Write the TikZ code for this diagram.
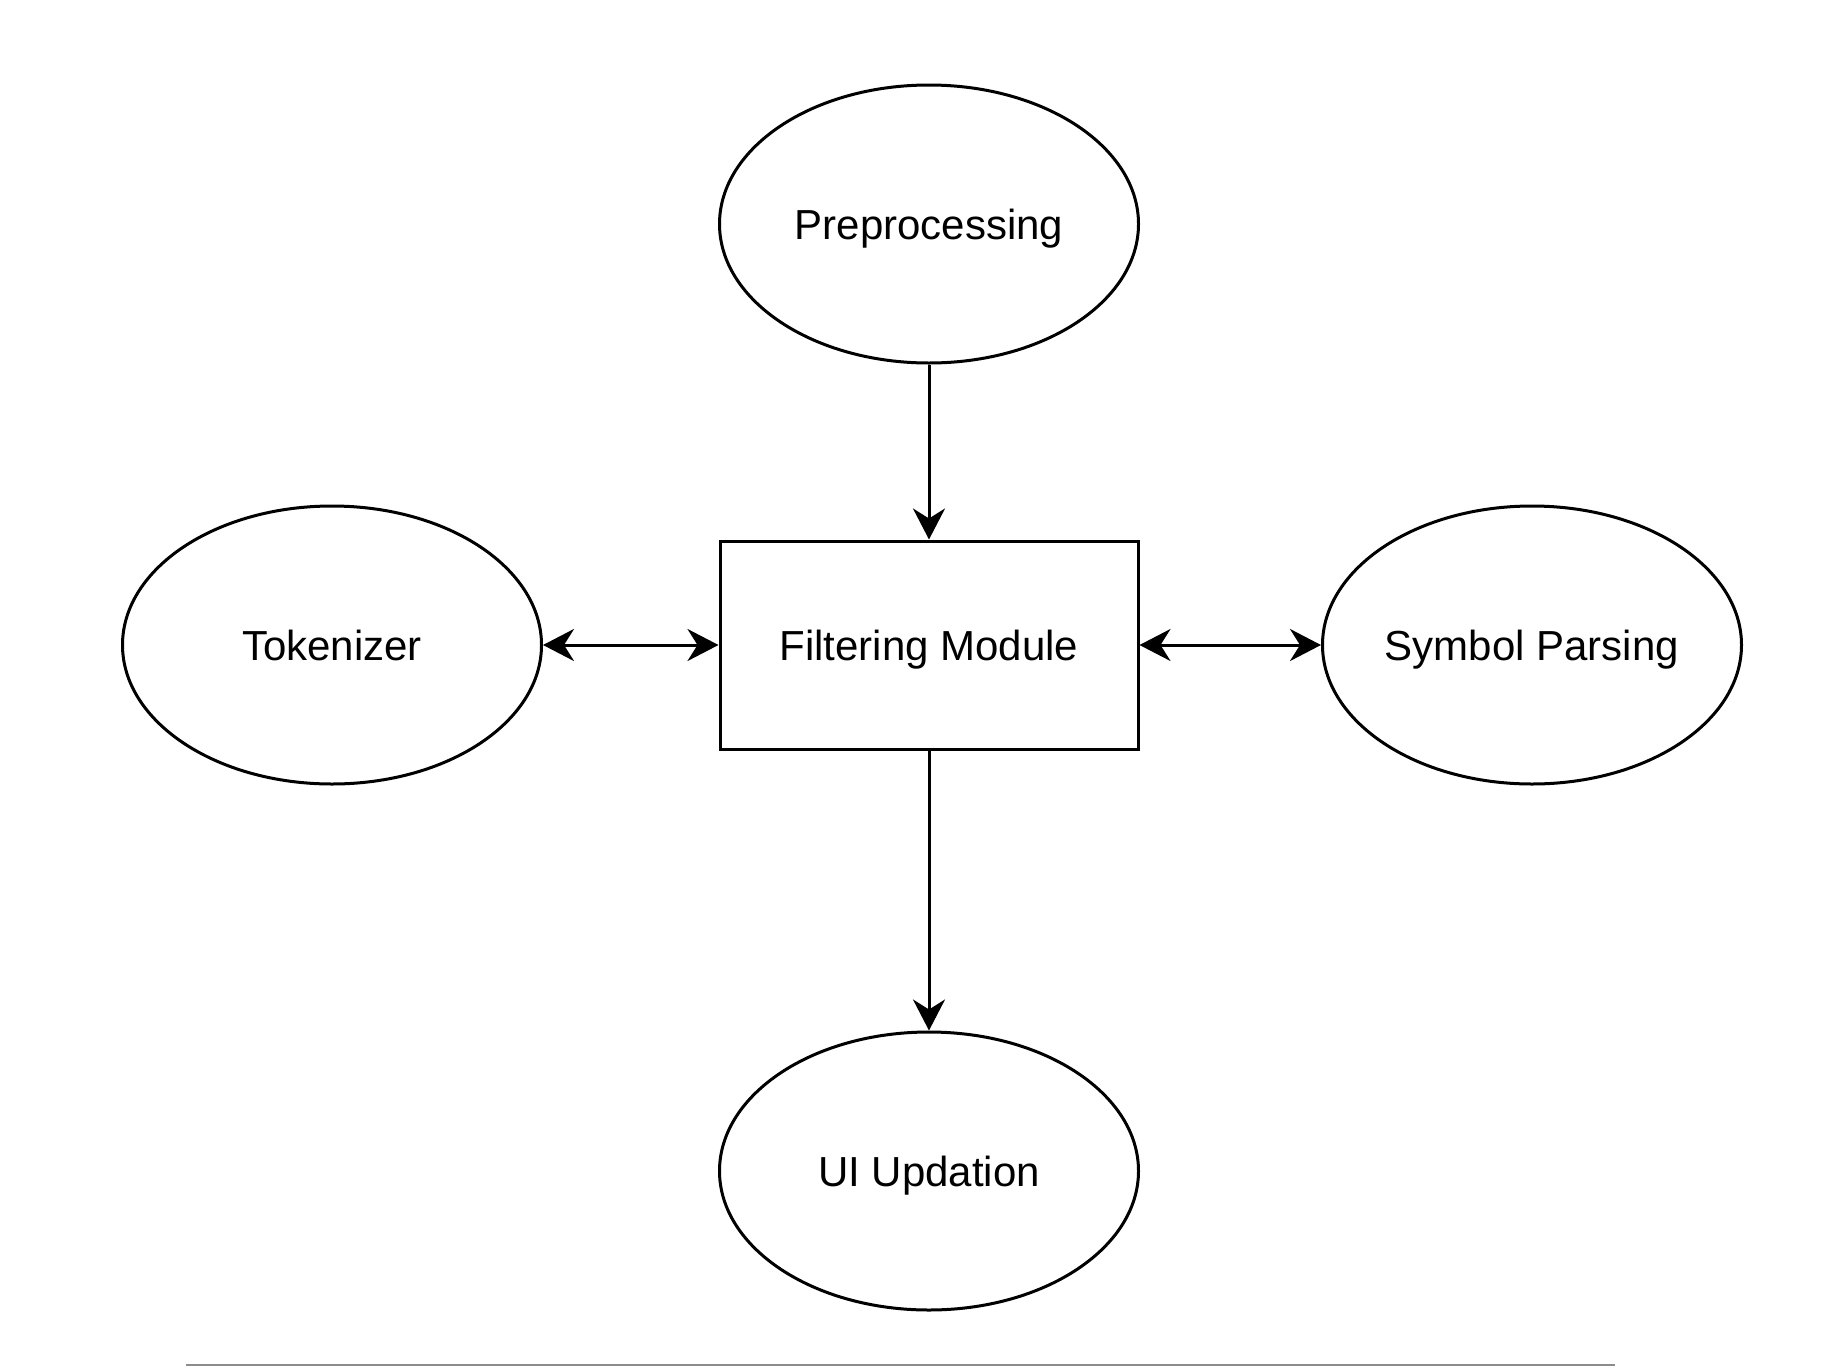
\documentclass[tikz,border=0pt]{standalone}
\usepackage{fontspec}
\setmainfont{Liberation Sans}
\usetikzlibrary{shapes.geometric,arrows.meta}

\begin{document}
\begin{tikzpicture}[x=0.5pt,y=-0.5pt,font=\fontsize{21}{25}\selectfont,
  stage/.style={ellipse,draw,line width=1.5pt,minimum width=209.5pt,minimum height=139pt,inner sep=0pt,text height=15pt,text depth=0pt},
  module/.style={rectangle,draw,line width=1.5pt,minimum width=209pt,minimum height=104pt,inner sep=0pt,text height=15pt,text depth=0pt},
  flow/.style={line width=1.5pt,-{Stealth[length=15.5pt,width=16pt,inset=5pt]}},
  twoway/.style={line width=1.5pt,{Stealth[length=15.5pt,width=16pt,inset=5pt]}-{Stealth[length=15.5pt,width=16pt,inset=5pt]}}]
  \useasboundingbox (0,0) rectangle (1848,1366);
  \node[module] (filter) at (929,645) {Filtering Module};
  \node[stage] (prep) at (929,224) {Preprocessing};
  \node[stage] (token) at (332,645) {Tokenizer};
  \node[stage] (symbol) at (1532,645) {Symbol Parsing};
  \node[stage] (ui) at (929,1171) {UI Updation};
  \draw[flow] (prep) -- (filter);
  \draw[flow] (filter) -- (ui);
  \draw[twoway] (token) -- (filter);
  \draw[twoway] (filter) -- (symbol);
  \draw[gray!90,line width=0.8pt] (186,1365) -- (1615,1365);
\end{tikzpicture}
\end{document}
